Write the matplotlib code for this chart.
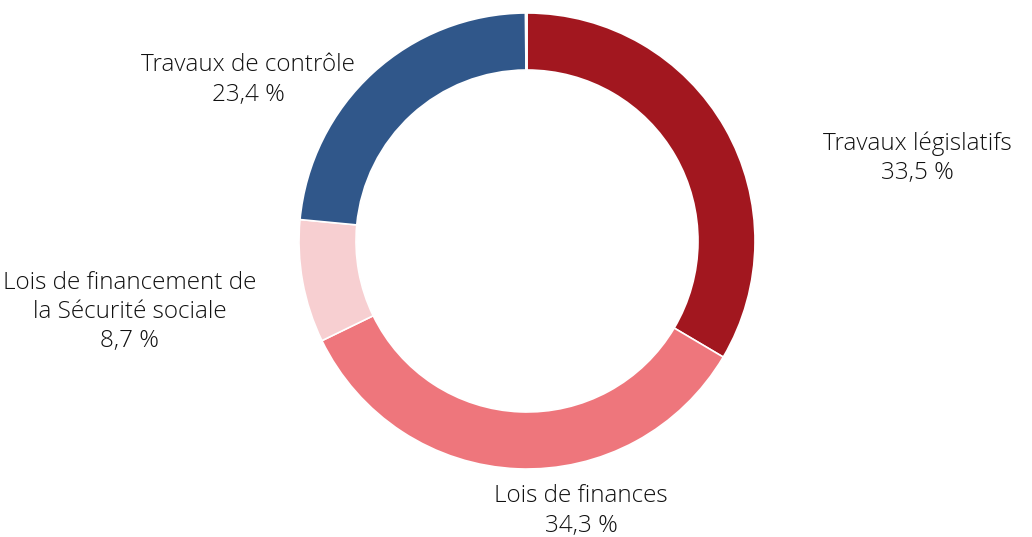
import matplotlib
matplotlib.use("Agg")
import matplotlib.pyplot as plt

# data
categories = ["Travaux législatifs", "Lois de finances",
              "Lois de financement de\nla Sécurité sociale", "Travaux de contrôle", ""]
values = [33.5, 34.3, 8.7, 23.4, 0.1]
labels_pct = ["33,5 %", "34,3 %", "8,7 %", "23,4 %", ""]
colors = ["#A2171F", "#EE767C", "#F7CFD1", "#30578A", "#30578A"]

plt.rcParams['font.family'] = ['Open Sans', 'DejaVu Sans']

W, H = 1032, 537
fig = plt.figure(figsize=(W / 100, H / 100), dpi=100)
cx, cy, R = 527, 241, 228
ax = fig.add_axes([(cx - R) / W, (H - cy - R) / H, 2 * R / W, 2 * R / H])

ax.pie(values, colors=colors, startangle=90, counterclock=False,
       radius=1.0, wedgeprops=dict(width=0.25, edgecolor='white', linewidth=1.2))
ax.set_xlim(-1, 1)
ax.set_ylim(-1, 1)
ax.set_aspect('equal')
ax.axis('off')

# label positions in pixels (centre of text block)
label_px = [(917, 158), (581, 511), (130, 312), (248, 80)]
for i, (px, py) in enumerate(label_px):
    txt = categories[i] + "\n" + labels_pct[i]
    ax.text((px - cx) / R, (cy - py) / R, txt, ha='center', va='center',
            fontsize=17.5, color='#111111', linespacing=1.3, clip_on=False,
            fontweight='light')

fig.savefig("out.png", dpi=100)
